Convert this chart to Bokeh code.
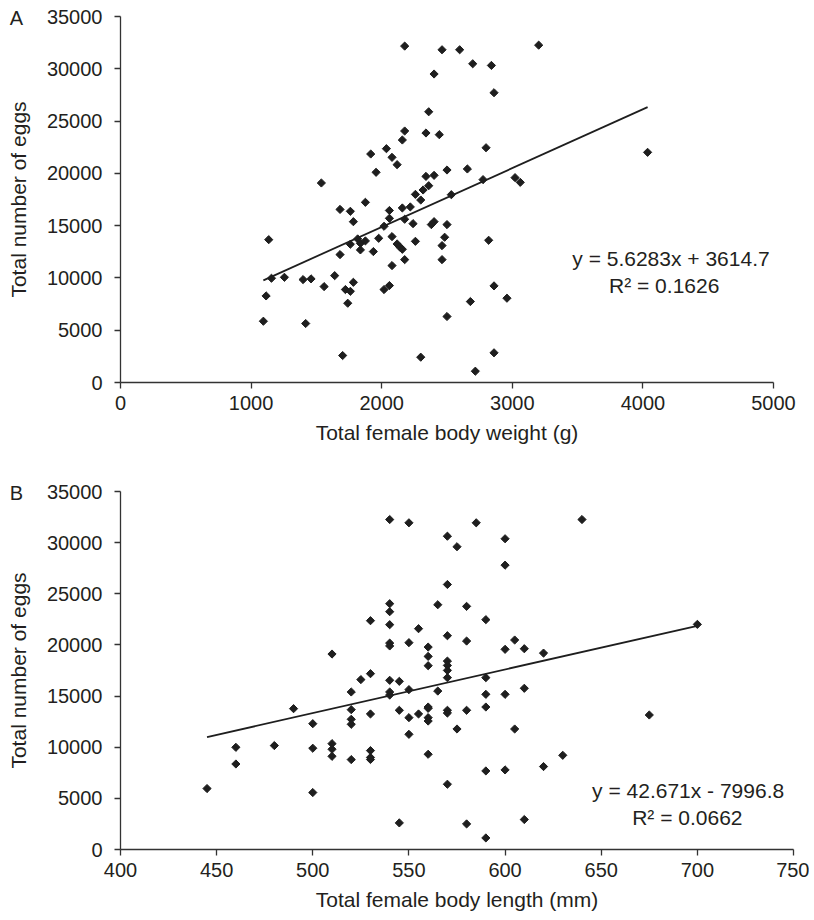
import numpy as np
from bokeh.plotting import figure
from bokeh.models import Range1d, FixedTicker, Label
from bokeh.layouts import column
from bokeh.embed import file_html
from bokeh.resources import INLINE

# ---------------- data ----------------
weight_g = [1094, 1115, 1135, 1156, 1255, 1398, 1418, 1459, 1538, 1559,
            1640, 1681, 1681, 1701, 1722, 1740, 1760, 1760, 1760, 1783,
            1783, 1816, 1837, 1837, 1875, 1875, 1916, 1936, 1957, 1977,
            2018, 2018, 2036, 2059, 2059, 2059, 2079, 2079, 2079, 2118,
            2118, 2138, 2158, 2158, 2158, 2176, 2176, 2176, 2176, 2219,
            2240, 2258, 2258, 2299, 2299, 2317, 2339, 2339, 2360, 2360,
            2380, 2401, 2401, 2401, 2441, 2462, 2462, 2462, 2482, 2500,
            2500, 2500, 2533, 2597, 2656, 2679, 2697, 2717, 2776, 2799,
            2819, 2840, 2860, 2860, 2860, 2959, 3021, 3061, 3202, 4036]
eggs_a = [5860, 8280, 13660, 9970, 10060, 9840, 5640, 9910, 19080, 9170,
          10220, 16550, 12230, 2580, 8890, 7580, 16370, 13220, 8720, 15380,
          9580, 13730, 13310, 12680, 17230, 13540, 21850, 12520, 20100, 13790,
          14940, 8890, 22360, 16450, 15700, 9270, 21530, 13950, 11180, 20830,
          13250, 12960, 23190, 16690, 12740, 32170, 24050, 15610, 11750, 16790,
          15190, 17990, 13500, 17450, 2420, 18410, 23860, 19710, 25890, 18820,
          15100, 29500, 19810, 15380, 23700, 31820, 13090, 11750, 13890, 20320,
          15100, 6310, 17960, 31820, 20420, 7740, 30480, 1080, 19400, 22450,
          13600, 30320, 27710, 9240, 2840, 8060, 19590, 19140, 32260, 22010]

length_mm = [445, 460, 460, 480, 490, 500, 500, 500, 510, 510,
             510, 510, 520, 520, 520, 520, 520, 525, 530, 530,
             530, 530, 530, 530, 540, 540, 540, 540, 540, 540,
             540, 540, 540, 545, 545, 545, 550, 550, 550, 550,
             550, 555, 555, 560, 560, 560, 560, 560, 560, 560,
             560, 565, 565, 570, 570, 570, 570, 570, 570, 570,
             570, 570, 570, 575, 575, 580, 580, 580, 580, 585,
             590, 590, 590, 590, 590, 590, 600, 600, 600, 600,
             600, 605, 605, 610, 610, 610, 620, 620, 630, 640,
             675, 700]
eggs_b = [5960, 9990, 8360, 10160, 13770, 12300, 9900, 5570, 19110, 10350,
          9800, 9110, 15400, 13670, 12730, 12240, 8790, 16610, 22370, 17190,
          13250, 9670, 9000, 8800, 32260, 24030, 23250, 21980, 20180, 19900,
          16540, 15400, 15100, 16440, 13610, 2600, 31940, 20220, 15630, 12890,
          11260, 21590, 13250, 19790, 18880, 17970, 13930, 13800, 12890, 12560,
          9310, 23930, 15490, 30630, 25910, 20900, 18420, 18000, 17510, 16800,
          13610, 13340, 6380, 29600, 11780, 23770, 20380, 13610, 2500, 31940,
          22470, 16800, 15170, 13930, 7680, 1130, 30380, 27800, 19570, 15170,
          7780, 20480, 11780, 19630, 15760, 2930, 19200, 8110, 9210, 32260,
          13150, 22010]

slope_a, intercept_a = 5.6283, 3614.7
slope_b, intercept_b = 42.671, -7996.8
eq_text_a = ["y = 5.6283x + 3614.7", "R\u00b2 = 0.1626"]
eq_text_b = ["y = 42.671x - 7996.8", "R\u00b2 = 0.0662"]

x_ticks_a = [0, 1000, 2000, 3000, 4000, 5000]
x_ticks_b = [400, 450, 500, 550, 600, 650, 700, 750]
y_ticks = [0, 5000, 10000, 15000, 20000, 25000, 30000, 35000]

x_title_a = "Total female body weight (g)"
x_title_b = "Total female body length (mm)"
y_title = "Total number of eggs"

FONT = "Liberation Sans"
INK = "#1e1e1e"
TXT = "#231f20"


def panel(xs, ys, slope, intercept, xr, xticks, xtitle, eq_text, eq_pos,
          letter, letter_pos, frame_w, frame_h, top, bottom, right):
    p = figure(frame_width=frame_w, frame_height=frame_h,
               x_range=Range1d(*xr), y_range=Range1d(0, 35000),
               output_backend="svg", toolbar_location=None,
               min_border_left=120, min_border_right=right,
               min_border_top=top, min_border_bottom=bottom,
               background_fill_color="white", border_fill_color="white")
    p.outline_line_color = None
    p.grid.visible = False
    p.xaxis.ticker = FixedTicker(ticks=xticks)
    p.yaxis.ticker = FixedTicker(ticks=y_ticks)
    p.xaxis.axis_label = xtitle
    p.yaxis.axis_label = y_title
    for ax in (p.xaxis[0], p.yaxis[0]):
        ax.axis_line_color = "#333333"
        ax.axis_line_width = 1.3
        ax.major_tick_line_color = "#333333"
        ax.major_tick_line_width = 1.3
        ax.major_tick_out = 6
        ax.major_tick_in = 0
        ax.minor_tick_line_color = None
        ax.major_label_text_font = FONT
        ax.major_label_text_font_size = "20px"
        ax.major_label_text_color = TXT
        ax.axis_label_text_font = FONT
        ax.axis_label_text_font_size = "21px"
        ax.axis_label_text_font_style = "normal"
        ax.axis_label_text_color = TXT
    p.xaxis.major_label_standoff = 7
    p.xaxis.axis_label_standoff = 8
    p.yaxis.major_label_standoff = 12
    p.yaxis.axis_label_standoff = 14

    p.scatter(xs, ys, marker="square", size=5.8, angle=np.pi / 4,
              color=INK, line_color=INK)
    x0, x1 = min(xs), max(xs)
    p.line([x0, x1], [slope * x0 + intercept, slope * x1 + intercept],
           line_width=1.8, color=INK)

    for txt, (lx, ly) in zip(eq_text, eq_pos):
        p.add_layout(Label(x=lx, y=ly, text=txt, text_align="center",
                           text_baseline="middle", text_font=FONT,
                           text_font_size="21px", text_color=TXT))
    # panel letter: placed in a side panel so it is not clipped to the frame
    p.add_layout(Label(x=letter_pos[0], y=letter_pos[1], text=letter,
                       text_align="center", text_baseline="middle",
                       text_font=FONT, text_font_size="20px",
                       text_color=TXT), "right")
    return p


pa = panel(weight_g, eggs_a, slope_a, intercept_a, (0, 5000), x_ticks_a,
           x_title_a, eq_text_a, [(4215, 11820), (4163, 9270)],
           "A", (-796, 34850), 653, 366, 16, 70, 33)
pb = panel(length_mm, eggs_b, slope_b, intercept_b, (400, 750), x_ticks_b,
           x_title_b, eq_text_b, [(695.2, 5724), (694.8, 3087)],
           "B", (345.9, 34840), 673, 358, 39, 56, 16)

layout = column(pa, pb)
open("out.html", "w").write(file_html(layout, INLINE))
